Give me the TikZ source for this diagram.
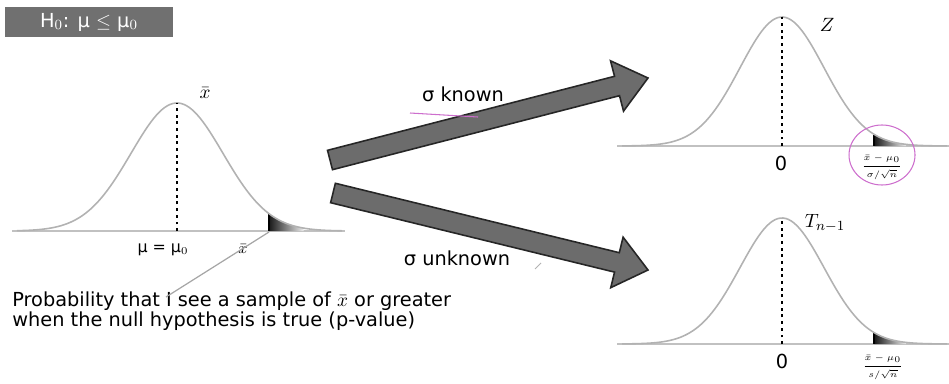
\documentclass[tikz,border=0pt]{standalone}
\usepackage{fontspec}
\setmainfont{DejaVu Sans}
\usetikzlibrary{positioning, calc}
\definecolor{boxgray}{RGB}{112,112,112}
\definecolor{arrowgray}{RGB}{108,108,108}
\definecolor{curvegray}{RGB}{178,178,178}
\definecolor{inkpink}{RGB}{205,110,205}

\tikzset{
    bigarrow/.style={draw=black!85, fill=arrowgray, line width=0.9pt, line join=miter},
    lab/.style={font=\fontsize{11}{11.4}\selectfont, inner sep=1pt},
    smalllab/.style={font=\fontsize{9}{10}\selectfont, inner sep=1pt},
    tinylab/.style={font=\fontsize{3.6}{4}\selectfont, inner sep=0pt},
    bell/.style={curvegray, line width=0.9pt},
    axisline/.style={curvegray!80, line width=0.7pt},
    meanline/.style={black, line width=1.6pt, dash pattern=on 1.6pt off 2.2pt}
}

\begin{document}
\begin{tikzpicture}[x=0.02cm, y=0.02cm]
    \useasboundingbox (0,0) rectangle (949,383);

    % Hypothesis box
    \fill[boxgray] (5,346) rectangle (173,376);
    \node[lab, text=white] (hyp) at (89,361) {H$_0$: μ $\le$ μ$_0$};

    % Three bell curves: centre / baseline / height / sigma / tail start
    \foreach \cx/\by/\h/\s/\tl in {177/152/128/46/2.0, 782/237/129/42/2.2, 782/39/126/42/2.2} {
        \draw[axisline] ({\cx-165},\by) -- ({\cx+168},\by);
        \shade[left color=black!90, right color=gray!15]
            ({\cx+\tl*\s},\by) -- plot[domain={\tl*\s}:{(\tl+0.75)*\s}, samples=20]
            ({\cx+\x},{\by+\h*exp(-((\x/\s)^2)/2)}) -- ({\cx+(\tl+0.75)*\s},\by) -- cycle;
        \draw[black, line width=1.2pt] ({\cx+\tl*\s},\by) -- ({\cx+\tl*\s},{\by+\h*exp(-(\tl^2)/2)});
        \draw[bell] plot[domain=-160:165, samples=120] ({\cx+\x},{\by+\h*exp(-((\x/\s)^2)/2)});
        \draw[meanline] (\cx,\by) -- (\cx,{\by+\h});
    }

    % Left distribution labels
    \node[lab] (xbar) at (205,290) {$\bar{x}$};
    \node[smalllab] (mulab) at (163,133) {μ = μ$_0$};
    \node[smalllab] (xlab) at (243,134) {$\bar{x}$};
    \coordinate (lefttail) at (269,151);
    \coordinate (ptr) at (166,86);
    \node[lab, anchor=north west, align=left, inner sep=0pt] (prob) at (12,92)
        {Probability that I see a sample of $\bar{x}$ or greater\\
         when the null hypothesis is true (p-value)};
    \draw[gray!70, line width=0.7pt] (lefttail) -- (ptr);

    % Block arrows
    \coordinate (upstart) at (330,223);
    \coordinate (uptip) at (648,305);
    \coordinate (lowstart) at (333,190);
    \coordinate (lowtip) at (648,113);
    \foreach \a/\b in {upstart/uptip, lowstart/lowtip} {
        \coordinate (hb) at ($(\b)!0.64cm!(\a)$);
        \draw[bigarrow] ($(\a)!0.2cm!-90:(\b)$) -- ($(hb)!0.2cm!90:(\a)$)
            -- ($(hb)!0.52cm!90:(\a)$) -- (\b) -- ($(hb)!0.52cm!-90:(\a)$)
            -- ($(hb)!0.2cm!-90:(\a)$) -- ($(\a)!0.2cm!90:(\b)$) -- cycle;
    }
    \node[lab] (knownlab) at (463,289) {σ known};
    \draw[inkpink, line width=0.6pt] (410,270) -- (478,266);
    \node[lab] (unknownlab) at (457,125) {σ unknown};
    \draw[gray!60, line width=0.5pt] (535,114) -- (541,120);

    % Upper right: Z
    \node[lab] (zlab) at (827,358) {$Z$};
    \node[lab] (zero1) at (781,220) {0};
    \node[tinylab] (zstat) at (882,216) {$\displaystyle\frac{\bar{x}-\mu_0}{\sigma/\sqrt{n}}$};
    \draw[inkpink, line width=0.6pt] (882,228) ellipse (33 and 30);

    % Lower right: T
    \node[lab] (tlab) at (825,160) {$T_{n-1}$};
    \node[lab] (zero2) at (782,22) {0};
    \node[tinylab] (tstat) at (883,16) {$\displaystyle\frac{\bar{x}-\mu_0}{s/\sqrt{n}}$};
\end{tikzpicture}
\end{document}
